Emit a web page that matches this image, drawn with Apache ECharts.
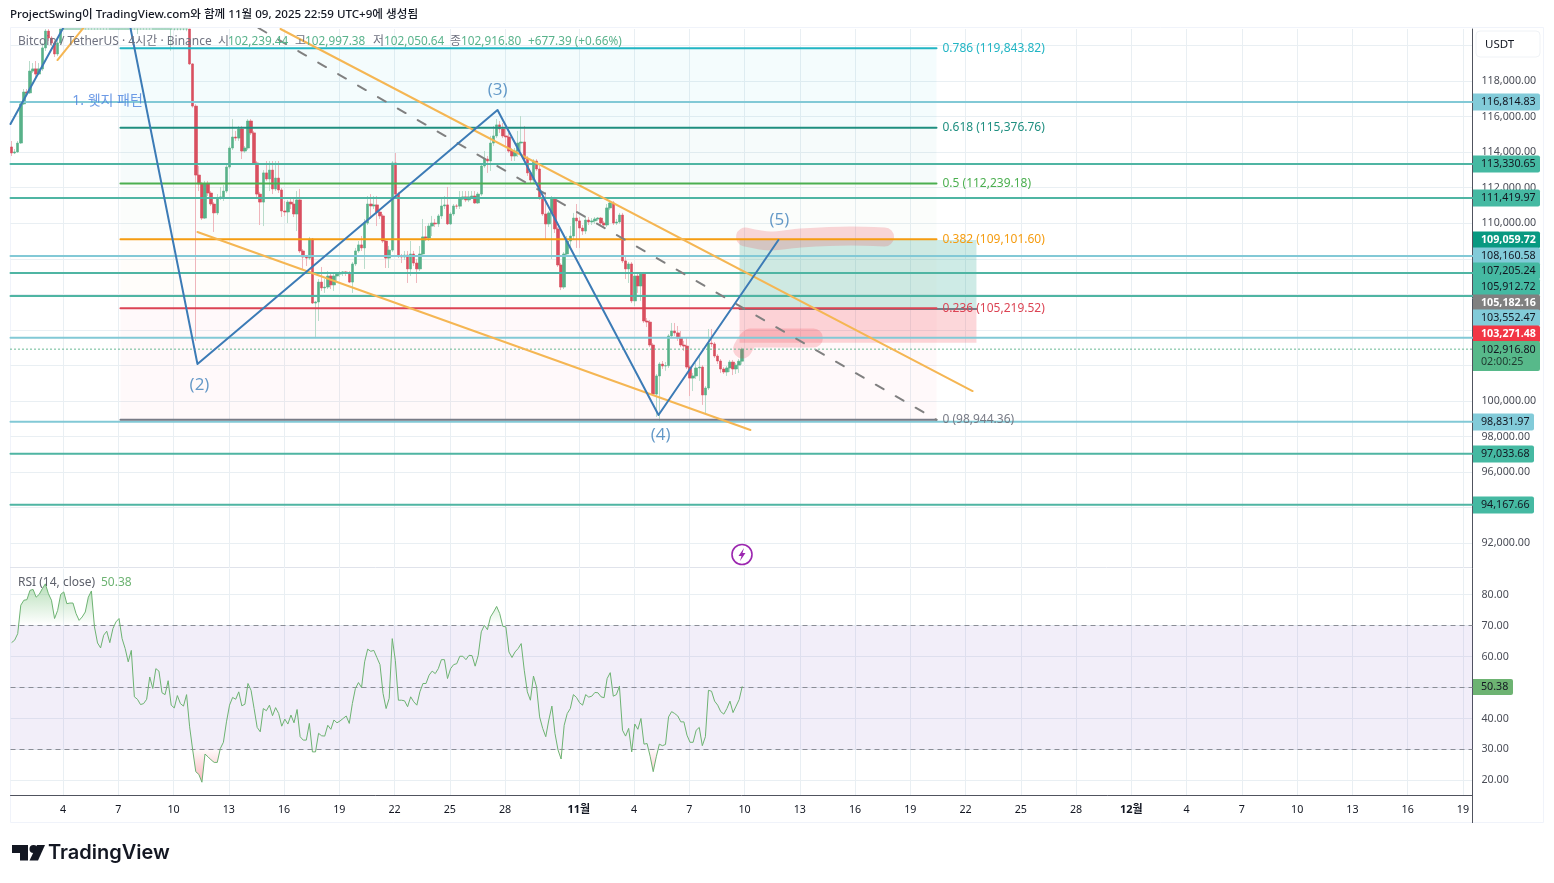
<!DOCTYPE html>
<html><head><meta charset="utf-8">
<style>html,body{margin:0;padding:0;background:#fff}#c{width:1554px;height:883px}</style>
<script src="https://cdn.jsdelivr.net/npm/echarts@6/dist/echarts.min.js"></script>
</head><body><div id="c"></div>
<script>
const FONT='"Noto Sans","Noto Sans CJK KR",sans-serif';
const firstCandleDay=0.2083, candleStep=1/6;
const candleOpen=[114290,113950,114010,114510,116710,117380,117330,118560,118680,118390,118680,119860,120810,120420,120140,119520,120140,
120930,121500,121900,122400,122200,122800,122500,122900,123300,123700,123400,124200,125000,124700,124300,125100,125400,124900,124300,123900,123500,122900,122600,123100,121800,121700,121400,121500,121700,122700,122300,123200,123100,122200,122100,122600,120950,121300,120950,121200,120950,
120930,118960,116590,112710,112210,110290,112210,111700,111080,110580,111420,111480,111810,113160,114230,114850,114790,115300,114060,114230,115750,115080,113390,111640,111190,112830,112490,112990,111930,112540,111870,110690,110630,111190,111080,110520,111310,108440,108100,108040,109110,105510,105570,106690,106360,106410,107030,106530,107030,107140,107200,107260,107200,106690,107710,108440,108780,108610,110010,111080,110970,111030,110630,110410,109000,108040,108490,113390,111640,108160,108100,108210,107430,108270,107760,107430,108270,109230,109170,109840,110010,109960,110410,110970,111030,109960,110520,110970,110960,111360,111480,111310,111480,111530,111140,111640,113220,113610,113500,114510,114910,115530,115300,114910,114850,114060,113780,114060,114510,114570,113610,112830,112430,113500,113050,111420,110520,109960,110580,111360,109680,107650,106410,108270,109000,109280,110290,110130,109730,109560,110180,110070,110130,110240,110290,110010,109900,110860,111140,110010,110070,110460,107880,107430,107710,105630,107030,106470,107140,104500,104440,103150,100390,101410,102080,101970,101990,103660,103940,103830,103540,103150,103090,101910,101290,101410,101860,101910,100340,100730,103260,103210,102530,102250,101800,101630,101860,102190,101800,102020,102239.44];
const candleClose=[113950,114010,114510,116710,117380,117330,118560,118680,118390,118680,119860,120810,120420,120140,119520,120140,120930,
121500,121900,122400,122200,122800,122500,122900,123300,123700,123400,124200,125000,124700,124300,125100,125400,124900,124300,123900,123500,122900,122600,123100,121800,121700,121400,121500,121700,122700,122300,123200,123100,122200,122100,122600,120950,121300,120950,121200,120950,120930,
118960,116590,112710,112210,110290,112210,111700,111080,110580,111420,111480,111810,113160,114230,114850,114790,115300,114060,114230,115750,115080,113390,111640,111190,112830,112490,112990,111930,112540,111870,110690,110630,111190,111080,110520,111310,108440,108100,108040,109110,105510,105570,106690,106360,106410,107030,106530,107030,107140,107200,107260,107200,106690,107710,108440,108780,108610,110010,111080,110970,111030,110630,110410,109000,108040,108490,113390,111640,108160,108100,108210,107430,108270,107760,107430,108270,109230,109170,109840,110010,109960,110410,110970,111030,109960,110520,110970,110960,111360,111480,111310,111480,111530,111140,111640,113220,113610,113500,114510,114910,115530,115300,114910,114850,114060,113780,114060,114510,114570,113610,112830,112430,113500,113050,111420,110520,109960,110580,111360,109680,107650,106410,108270,109000,109280,110290,110130,109730,109560,110180,110070,110130,110240,110290,110010,109900,110860,111140,110010,110070,110460,107880,107430,107710,105630,107030,106470,107140,104500,104440,103150,100390,101410,102080,101970,101990,103660,103940,103830,103540,103150,103090,101910,101290,101410,101860,101910,100340,100730,103260,103210,102530,102250,101800,101630,101860,102190,101800,102020,102239.44,102916.80];
const candleLow=[113780,113890,113950,114460,116650,117160,117270,118450,118225,118340,118560,119690,120250,119970,119350,119400,120025,
120880,121300,121700,122000,122000,122300,122300,122700,123100,123200,123200,124000,124500,124000,124100,124800,124600,124000,123600,123200,122600,122300,122400,121500,120640,121200,121200,121300,121500,122000,122100,122800,122000,121800,121900,119700,120850,120850,120850,120850,120800,
118900,116500,103380,111810,110180,110240,111530,110970,109510,110460,111310,111250,111700,113050,114120,114630,114630,113610,113950,114120,114960,113280,111480,109900,109840,112380,111810,111640,111810,111700,110350,110410,110010,110800,110350,109560,108330,107430,107590,107930,105460,103540,104500,106190,106080,106300,106300,106190,106690,106980,107030,107030,106640,106080,107590,108330,108440,107430,109900,110240,110800,109840,110240,108890,107480,107480,108380,111530,108040,107760,107930,106640,107030,107590,106640,107310,108160,109000,109000,109280,109790,109790,110240,110800,109900,109900,110410,110800,110800,111310,111190,111190,111360,111080,111080,111530,113110,112830,112940,114340,114790,115080,114790,114340,113950,113500,113500,113730,114060,113500,112660,112260,112260,112940,111310,110410,109110,109790,107990,109450,107540,106240,106300,108160,108550,109110,108610,108610,109340,109390,109900,109900,109960,110130,109840,109730,109790,110740,109900,109900,109960,107760,106860,106640,105510,105340,106080,105630,104390,104160,103040,100280,99100,98880,101800,101700,101860,103540,103660,103380,103040,102810,101800,100280,100560,101240,101130,99780,99270,100620,103040,102420,102080,101580,101520,101410,101630,101460,101520,101580,102050.64];
const candleHigh=[114625,114175,114625,116875,117550,117550,119125,119010,119125,119010,120140,121090,120930,120530,120250,120360,121260,
121800,122200,122700,122700,123000,123100,123200,123600,124000,124000,124500,125400,125500,125000,125500,126000,125700,125200,124600,124200,123800,123200,123400,123300,122100,122000,121800,122000,123000,123000,123500,123500,123300,122500,122900,122800,121600,121600,121500,121500,121300,
121380,119000,116700,113220,112320,112380,112380,111810,111190,111640,112040,112150,113280,114340,115860,115190,115470,115470,114340,115860,115860,115190,113500,111760,112990,113500,113500,113500,113500,113500,111980,111250,111310,111360,111360,111810,111930,108550,108160,109230,109170,105630,106860,107540,106860,107310,107140,107140,107260,107310,107310,107310,107310,107820,108610,109000,109280,110240,111530,111640,111530,111530,110740,110520,109110,108720,113500,113950,111760,108270,108440,108440,109000,108440,107990,108720,110240,109840,110010,110410,110240,110520,111420,111530,112040,110630,111080,111080,111810,111810,111810,111810,111810,111810,111760,113330,114060,113780,114910,115470,115860,115750,115640,115300,115080,114230,114230,115190,116030,115470,113780,112940,113610,113610,113220,111530,111760,110690,111530,111480,109790,107760,108380,109280,109840,110580,111080,110350,109900,110350,110350,110290,110350,110350,110350,110130,111080,111310,111250,110240,110580,110580,108210,107820,107820,107200,107200,107260,107260,104670,104560,103260,101520,102190,102250,102190,103770,104390,104390,104220,103940,103380,103540,102020,101580,102140,102590,102020,100840,104050,104050,103320,102640,102360,101910,101970,102310,102310,102140,102360,102997.38];
const rsiValues=[64.5,65.3,67.4,76.6,78.2,78.4,81.4,81.7,79.2,80.1,81.9,83.5,80.3,78.2,72.3,74.9,80.1,80.9,77.1,77.3,77.3,73.9,71.7,72.8,74.4,79.2,81.2,69.6,64.4,62.8,66.9,68.2,64.5,69,71.2,72.3,65.8,62.6,58.3,62,47,46.2,44.5,44.8,46.2,53.4,49.7,56.1,55.3,48.3,47.7,52.2,44.3,43.4,47.4,44.8,44,47.7,37.3,29.8,22.8,21.9,19.4,28.5,27.6,26.6,25.8,25.8,30.3,32.3,38.9,44.3,46.8,46.2,48.6,44.1,44.6,51.3,49.1,43.2,37.1,35.7,43.2,42.5,44.3,40.9,43.5,41.6,37.5,39.8,38.2,41.1,38.6,42.9,34.1,33,33,38.4,29.2,29.2,35.2,34.4,34.3,37.8,36.5,39.5,38.6,39.2,40,40.8,38.4,44.8,49.7,51.6,50,58.3,62.4,61.7,62,59.7,57.4,48.1,43.2,46.5,65.8,58.8,45.9,45.9,45.7,43.8,47,45.4,44.3,48.6,51.3,51.3,54,55.3,54.5,56.1,59,59,52.9,56.1,57.4,57.7,60.1,60.1,59,60.4,60.3,56.9,60.4,68,70.1,68.7,72.8,74.4,76.2,73.9,69.8,69.6,61.5,59.7,61.5,62.6,64.2,55.6,48.6,45.9,53.7,50.2,40.5,36.8,34.1,39.5,44,35.2,29.8,26.9,37.8,41.6,43.2,47.7,46.8,45.1,44.3,47.7,46.9,47.2,48.4,48.3,47,46.7,52.9,54.8,47.2,47.7,50.4,36.2,34.3,36.8,29.2,38.2,36.5,40,31.7,31.9,27.8,22.8,27.6,31.7,31.2,31.6,40.5,42.2,41.6,40.8,38.9,38.9,34.6,32.3,32.3,36.2,37.1,31.2,34.1,49.1,48.8,45.6,44.3,42.2,41.4,43.2,45.6,41.9,44,46.1,50.38];
const candleDays=candleClose.map((_,i)=>firstCandleDay+i*candleStep);

const tickDays=[3,6,9,12,15,18,21,24,27,31,34,37,40,43,46,49,52,55,58,61,64,67,70,73,76,79];
const tickLabels=["4","7","10","13","16","19","22","25","28","11월","4","7","10","13","16","19","22","25","28","12월","4","7","10","13","16","19"];
const priceTicks=[92000,94000,96000,98000,100000,102000,104000,106000,108000,110000,112000,114000,116000,118000,120000];
const rsiTicks=[20,30,40,50,60,70,80];
const xMin=0.15,xMax=79.52,priceMin=90607,priceMax=120925;

const levelPrices=[116814.83,113330.65,111419.97,108160.58,107205.24,105912.72,103552.47,98831.97,97033.68,94167.66];
const levelColors=['#82c9d6','#4fb5a3','#4fb5a3','#82c9d6','#4fb5a3','#4fb5a3','#82c9d6','#82c9d6','#4fb5a3','#4fb5a3'];
const fibRatios=['0.786','0.618','0.5','0.382','0.236','0'];
const fibPrices=[119843.82,115376.76,112239.18,109101.60,105219.52,98944.36];
const fibColors=['#22b5c4','#1f8f80','#4caf50','#f59c10','#dc4454','#787b86'];
const fibFills=['rgba(0,188,212,.045)','rgba(0,150,136,.035)','rgba(76,175,80,.022)','rgba(255,152,0,.018)','rgba(242,54,69,.028)'];
const fibStart=6.12,fibEnd=50.42;
const boxStart=39.73,boxEnd=52.59,boxTop=109059.72,boxEntry=105182.16,boxBottom=103271.48;
const lastPrice=102916.80;

const elliottDays=[0.15,5.687,10.30,26.59,35.33,41.84];
const elliottPrices=[115581,126044,102081,116369,99213,109056];
const wedgeTopDays=[14.81,52.38], wedgeTopPrices=[120925,100562];
const wedgeLowDays=[10.30,40.32], wedgeLowPrices=[109506,98369];
const smallWedgeDays=[2.70,6.12], smallWedgePrices=[119181,123569];
const dashDays=[13.61,50.42], dashPrices=[120981,98944.36];
const brushUpDays=[40.05,41.41,43.04,45.76,47.60], brushUpPrices=[109225,109000,109169,109281,109225];
const brushLowDays=[39.89,40.32,43.74], brushLowPrices=[102925,103544,103544];
const waveLabels=['(2)','(3)','(4)','(5)'];
const waveDays=[10.41,26.59,35.44,41.89];
const wavePrices=[100900,117494,98087,110181];

const tagText=['116,814.83','113,330.65','111,419.97','109,059.72','108,160.58','107,205.24','105,912.72','105,182.16','103,552.47','103,271.48','98,831.97','97,033.68','94,167.66'];
const tagMid=[102,164,198,240,256,271,287,303,318,334,422,454,505];
const tagFill=['#82cbd9','#45b9a2','#45b9a2','#089981','#82cbd9','#45b9a2','#45b9a2','#808080','#82cbd9','#f23645','#82cbd9','#45b9a2','#45b9a2'];
const tagInk=['#131722','#131722','#131722','#fff','#131722','#131722','#131722','#fff','#131722','#fff','#131722','#131722','#131722'];
const tagRight=[1540,1540,1540,1540,1540,1540,1540,1540,1540,1540,1534,1534,1534];

const zip=(a,b)=>a.map((v,i)=>[v,b[i]]);
const capTop=v=>Math.min(v,priceMax);
function polyline(name,days,prices,color,width,extra){
  return Object.assign({name,type:'line',xAxisIndex:0,yAxisIndex:0,data:zip(days,prices),symbol:'none',silent:true,z:6,
    lineStyle:{color,width,cap:'round',join:'round',type:(extra&&extra.dash)||'solid'}},extra&&extra.series||{});
}
const bands=[];
for(let i=0;i<fibFills.length;i++) bands.push([{coord:[fibStart,fibPrices[i]],itemStyle:{color:fibFills[i]}},{coord:[fibEnd,fibPrices[i+1]]}]);
bands.push([{coord:[boxStart,boxTop],itemStyle:{color:'rgba(8,153,129,.2)'}},{coord:[boxEnd,boxEntry]}]);
bands.push([{coord:[boxStart,boxEntry],itemStyle:{color:'rgba(242,54,69,.2)'}},{coord:[boxEnd,boxBottom]}]);

const axisLabelColor='#131722',gridColor='#e9eff3';
const series=[
 {name:'zones',type:'line',xAxisIndex:0,yAxisIndex:0,data:[],silent:true,z:1,markArea:{silent:true,z:1,data:bands}},
 {name:'wicks',type:'candlestick',xAxisIndex:0,yAxisIndex:0,barWidth:1,z:3,silent:true,encode:{x:0,y:[1,2,3,4]},
  data:candleClose.map((c,i)=>[candleDays[i],capTop(candleOpen[i]),capTop(c),capTop(candleLow[i]),capTop(candleHigh[i])]),
  itemStyle:{color:'#b9dccb',color0:'#efb6bc',borderColor:'#b9dccb',borderColor0:'#efb6bc',borderWidth:1}},
 {name:'bodies',type:'candlestick',xAxisIndex:0,yAxisIndex:0,barWidth:3,z:4,silent:true,encode:{x:0,y:[1,2,3,4]},
  data:candleClose.map((c,i)=>[candleDays[i],capTop(candleOpen[i]),capTop(c),capTop(Math.min(candleOpen[i],c)),capTop(Math.max(candleOpen[i],c))]),
  itemStyle:{color:'#58b189',color0:'#d94f5f',borderColor:'#58b189',borderColor0:'#d94f5f',borderWidth:0.6}},
 polyline('brushUp',brushUpDays,brushUpPrices,'rgba(242,54,69,.2)',19,{series:{smooth:.3,z:5}}),
 polyline('brushLow',brushLowDays,brushLowPrices,'rgba(242,54,69,.2)',19,{series:{smooth:.2,z:5}}),
];
levelPrices.forEach((p,i)=>series.push(polyline('level'+i,[xMin,xMax],[p,p],levelColors[i],2)));
series.push(polyline('entry',[boxStart,boxEnd],[boxEntry,boxEntry],'#787b86',2));
series.push(polyline('last',[xMin,xMax],[lastPrice,lastPrice],'#58b189',1,{dash:[1,3]}));
fibPrices.forEach((p,i)=>series.push(polyline('fib'+i,[fibStart,fibEnd],[p,p],fibColors[i],2,{series:{
  endLabel:{show:true,distance:6,color:fibColors[i],fontSize:12,fontFamily:FONT,
    formatter:fibRatios[i]+' ('+p.toLocaleString('en-US',{minimumFractionDigits:2})+')'}}})));
series.push(polyline('wedgeTop',wedgeTopDays,wedgeTopPrices,'#f5b653',2));
series.push(polyline('wedgeLow',wedgeLowDays,wedgeLowPrices,'#f5b653',2));
series.push(polyline('wedgeSmall',smallWedgeDays,smallWedgePrices,'#f5b653',2));
series.push(polyline('dash',dashDays,dashPrices,'#808080',2,{dash:[9,14]}));
series.push(polyline('elliott',elliottDays,elliottPrices,'#3c7bb6',2));
series.push({name:'waves',type:'scatter',xAxisIndex:0,yAxisIndex:0,symbolSize:1,z:7,silent:true,itemStyle:{color:'transparent'},
  data:waveLabels.map((t,i)=>({value:[waveDays[i],wavePrices[i]],name:t})),
  label:{show:true,position:'inside',formatter:'{b}',color:'#3d80ba',fontSize:17,fontWeight:500,fontFamily:'"Open Sans",sans-serif'}});
series.push({name:'note',type:'scatter',xAxisIndex:0,yAxisIndex:0,symbolSize:1,z:7,silent:true,itemStyle:{color:'transparent'},
  data:[{value:[5.42,116875],name:'1. 웻지 패턴'}],
  label:{show:true,position:'inside',formatter:'{b}',color:'#4a82e0',fontSize:14,fontFamily:FONT}});
series.push({name:'RSI',type:'line',xAxisIndex:1,yAxisIndex:1,data:zip(candleDays,rsiValues),symbol:'none',silent:true,z:4,
  lineStyle:{color:'#6db372',width:1},
  areaStyle:{origin:50,opacity:1,color:new echarts.graphic.LinearGradient(0,568,0,795,[
    {offset:0,color:'rgba(76,175,80,.55)'},{offset:.25,color:'rgba(76,175,80,0)'},
    {offset:.79,color:'rgba(242,54,69,0)'},{offset:.96,color:'rgba(242,54,69,.4)'},{offset:1,color:'rgba(242,54,69,.4)'}],true)},
  markArea:{silent:true,z:1,itemStyle:{color:'rgba(126,87,194,.1)'},data:[[{coord:[xMin,70]},{coord:[xMax,30]}]]},
  markLine:{silent:true,symbol:'none',z:3,animation:false,label:{show:false},lineStyle:{color:'#8a8d96',type:[5,4],width:1},
    data:[{yAxis:70},{yAxis:50},{yAxis:30}]}});

const gfx=[];
const txt=(x,y,s,fill,size,extra)=>gfx.push({type:'text',z:20,x,y,style:Object.assign({text:s,fill,fontSize:size,fontFamily:FONT,textVerticalAlign:'middle',textBaseline:'middle'},extra||{})});
gfx.push({type:'rect',z:0,shape:{x:10.5,y:27.5,width:1533,height:795},style:{fill:'none',stroke:'#f0f3fa',lineWidth:1},silent:true});
gfx.push({type:'line',z:0,shape:{x1:10,y1:567.5,x2:1472,y2:567.5},style:{stroke:'#e0e3eb',lineWidth:1}});
gfx.push({type:'line',z:0,shape:{x1:1472.5,y1:795,x2:1472.5,y2:823},style:{stroke:'#50535e',lineWidth:1}});
gfx.push({type:'rect',z:19,shape:{x:1476,y:31,width:64,height:26,r:4},style:{fill:'#fff',stroke:'#eff2f6',lineWidth:1}});
txt(1485,45,'USDT','#131722',11.5);
txt(10,14.5,'ProjectSwing이 TradingView.com와 함께 11월 09, 2025 22:59 UTC+9에 생성됨','#131722',11.6,{fontWeight:500});
txt(18,42,'Bitcoin / TetherUS · 4시간 · Binance','#6f7280',12);
[[218,'시',228,'102,239.44'],[295,'고',305,'102,997.38'],[373,'저',384,'102,050.64'],[450,'종',461,'102,916.80']].forEach(r=>{
  txt(r[0],42,r[1],'#6f7280',12); txt(r[2],42,r[3],'#59b38c',11.8);
});
txt(528,42,'+677.39 (+0.66%)','#59b38c',11.8);
txt(18,583,'RSI (14, close)','#5d606b',12);
txt(101,583,'50.38','#6db372',12);
tagText.forEach((t,i)=>{
  gfx.push({type:'rect',z:18,shape:{x:1473,y:tagMid[i]-8.5,width:tagRight[i]-1473,height:17,r:[0,2,2,0]},style:{fill:tagFill[i]}});
  txt(1481,tagMid[i],t,tagInk[i],10.7,tagInk[i]==='#fff'?{fontWeight:700}:{});
});
gfx.push({type:'rect',z:18,shape:{x:1473,y:341,width:67,height:30,r:[0,2,2,0]},style:{fill:'#57b98a'}});
txt(1481,349.5,'102,916.80','#131722',10.7);
txt(1481,362,'02:00:25','#1f3b30',10.7);
gfx.push({type:'rect',z:18,shape:{x:1473,y:679,width:40,height:16,r:[0,2,2,0]},style:{fill:'#6db372'}});
txt(1481,687,'50.38','#131722',10.7);
gfx.push({type:'circle',z:10,shape:{cx:742,cy:554.5,r:10},style:{fill:'#fff',stroke:'#9c27b0',lineWidth:1.6}});
gfx.push({type:'polygon',z:11,shape:{points:[[744,548],[738.5,556],[741.5,556],[740,561],[745.5,553],[742.5,553]]},style:{fill:'#9c27b0'}});
gfx.push({type:'polygon',z:10,shape:{points:[[12,845],[28,845],[28,860.5],[20,860.5],[20,853],[12,853]]},style:{fill:'#131722'}});
gfx.push({type:'circle',z:10,shape:{cx:33.5,cy:849,r:4},style:{fill:'#131722'}});
gfx.push({type:'polygon',z:10,shape:{points:[[37,845],[45,845],[38,860.5],[29.5,860.5]]},style:{fill:'#131722'}});
gfx.push({type:'text',z:10,x:48,y:853,style:{text:'TradingView',fill:'#131722',fontSize:20,fontWeight:600,fontFamily:'Inter,Roboto,sans-serif',textVerticalAlign:'middle',textBaseline:'middle'}});

const xBase=(idx,show)=>({type:'value',gridIndex:idx,min:xMin,max:xMax,
  axisLine:{show:show,onZero:false,lineStyle:{color:'#50535e',width:1}},
  axisTick:{show:false,customValues:tickDays},
  splitLine:{show:true,lineStyle:{color:gridColor,width:1}},
  axisLabel:{show:show,customValues:tickDays,margin:9,hideOverlap:false,showMinLabel:true,showMaxLabel:true,color:axisLabelColor,fontSize:10.7,fontFamily:FONT,
    formatter:v=>{const s=tickLabels[tickDays.indexOf(v)];return s&&s.endsWith('월')?'{b|'+s+'}':s;},
    rich:{b:{fontWeight:700,fontSize:11,color:axisLabelColor,fontFamily:FONT}}}});
const yBase=(idx,min,max,ticks,fmt)=>({type:'value',gridIndex:idx,position:'right',min,max,scale:true,
  axisLine:{show:true,onZero:false,lineStyle:{color:'#50535e',width:1}},
  axisTick:{show:false,customValues:ticks},
  splitLine:{show:true,lineStyle:{color:gridColor,width:1}},
  axisLabel:{customValues:ticks,margin:9,color:'#4a4d57',fontSize:10.7,fontFamily:FONT,formatter:fmt}});

const chart=echarts.init(document.getElementById('c'),null,{renderer:'canvas'});
chart.setOption({
  animation:false,backgroundColor:'#fff',tooltip:{show:false},legend:{show:false},
  grid:[{left:10.5,width:1462,top:29,height:539},{left:10.5,width:1462,top:568.7,height:226.5}],
  xAxis:[xBase(0,false),xBase(1,true)],
  yAxis:[yBase(0,priceMin,priceMax,priceTicks,v=>v.toLocaleString('en-US',{minimumFractionDigits:2,maximumFractionDigits:2})),
         yBase(1,15.2,88.4,rsiTicks,v=>v.toFixed(2))],
  graphic:{elements:gfx},
  series
});
</script></body></html>
